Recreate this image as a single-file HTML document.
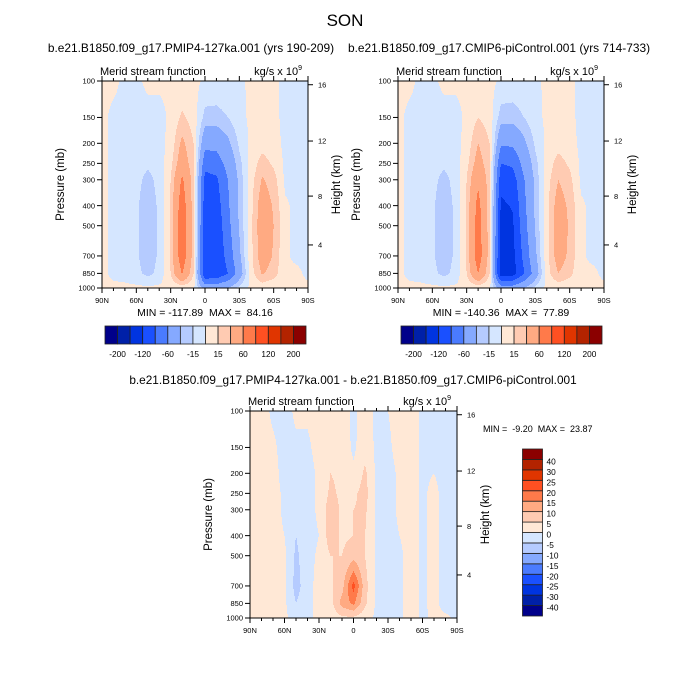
<!DOCTYPE html>
<html><head><meta charset="utf-8">
<style>
body{margin:0;background:#fff;}
svg{display:block;font-family:"Liberation Sans",sans-serif;}
text{white-space:pre;}
</style></head>
<body>
<svg id="root" width="700" height="700" viewBox="0 0 700 700">
<rect width="700" height="700" fill="#fff"/>
<text x="345" y="26" font-size="17" text-anchor="middle">SON</text>
<text x="191" y="52" font-size="11.9" text-anchor="middle">b.e21.B1850.f09_g17.PMIP4-127ka.001 (yrs 190-209)</text>
<text x="499" y="52" font-size="11.9" text-anchor="middle">b.e21.B1850.f09_g17.CMIP6-piControl.001 (yrs 714-733)</text>
<text x="353" y="384" font-size="11.8" text-anchor="middle">b.e21.B1850.f09_g17.PMIP4-127ka.001 - b.e21.B1850.f09_g17.CMIP6-piControl.001</text>
<g id="layer"></g>
</svg>
<script>
// ---- data ----
const lats = [90,80,70,60,50,40,30,20,10,0,-10,-20,-30,-40,-50,-60,-70,-80,-90];
const pressures = [100,150,200,250,300,400,500,700,850,1000];
const pressureTicks = [100,150,200,250,300,400,500,700,850,1000];
const latTicks = [90,60,30,0,-30,-60,-90];
const latTickLabels = ["90N","60N","30N","0","30S","60S","90S"];
const heightTickLabels = ["16","12","8","4"];
const heightTickFrac = [0.018,0.29,0.556,0.792];
const levelsFull = [-200,-160,-120,-90,-60,-30,-15,0,15,30,60,90,120,160,200];
const levelsFullLabels = ["-200","-120","-60","-15","15","60","120","200"];
const levelsDiff = [-40,-30,-25,-20,-15,-10,-5,0,5,10,15,20,25,30,40];
const levelsDiffLabels = ["-40","-30","-25","-20","-15","-10","-5","0","5","10","15","20","25","30","40"];
const palette = ["#00008a","#0020a8","#0034e0","#1a50ff","#4a7bff","#85a9ff","#b5cbff","#d5e6ff","#ffe8d6","#ffcbb2","#ffaa82","#ff7a4a","#ff5022","#e03500","#b32300","#8b0000"];
// rows = pressures, cols = lats
const fieldPMIP = [
[3,3,-3,-3,3,3,3,3,5,-3,-5,-5,-3,3,3,3,-3,-3,-3],
[3,-3,-3,-5,-5,-5,3,18,8,-20,-20,-15,-5,3,3,3,-3,-3,-3],
[3,-3,-5,-5,-8,-5,5,35,15,-50,-50,-35,-12,3,8,5,-3,-3,-3],
[3,-3,-5,-8,-12,-8,10,45,18,-80,-75,-50,-20,5,22,12,-3,-3,-3],
[3,-3,-5,-10,-20,-10,15,65,20,-100,-95,-60,-25,8,32,22,-3,-3,-3],
[3,-3,-5,-12,-25,-12,18,78,20,-108,-105,-65,-25,10,42,28,2,-3,-3],
[3,-3,-5,-12,-25,-12,18,84,20,-112,-110,-70,-28,10,45,30,2,-3,-3],
[3,-3,-5,-12,-25,-12,18,80,20,-115,-112,-80,-35,10,42,28,2,-3,-3],
[3,-3,-5,-10,-20,-10,15,62,15,-118,-115,-90,-45,8,32,22,2,3,-3],
[3,3,3,3,3,3,3,5,3,-40,-40,-30,-10,3,5,3,3,3,3]];
const fieldCTRL = [
[3,3,-3,-3,3,3,3,3,5,-3,-5,-5,-3,3,3,3,-3,-3,-3],
[3,-3,-3,-5,-5,-5,3,15,8,-22,-22,-15,-5,3,3,3,-3,-3,-3],
[3,-3,-5,-5,-8,-5,5,30,15,-55,-55,-35,-12,3,8,5,-3,-3,-3],
[3,-3,-5,-8,-12,-8,10,40,18,-90,-85,-50,-20,5,22,12,-3,-3,-3],
[3,-3,-5,-10,-20,-10,15,55,20,-110,-105,-62,-25,8,30,20,-3,-3,-3],
[3,-3,-5,-12,-25,-12,18,70,20,-125,-118,-68,-25,10,40,26,2,-3,-3],
[3,-3,-5,-12,-25,-12,18,75,20,-132,-125,-72,-28,10,42,28,2,-3,-3],
[3,-3,-5,-12,-25,-12,18,78,20,-138,-130,-82,-35,10,40,26,2,-3,-3],
[3,-3,-5,-10,-20,-10,15,60,15,-140,-135,-92,-45,8,30,20,2,3,-3],
[3,3,3,3,3,3,3,5,3,-45,-45,-30,-10,3,5,3,3,3,3]];
const fieldDiff = [
[2,2,-1,-2,1,1,2,2,2,-1,2,-1,0,2,2,-1,-2,-2,-2],
[2,2,1,-2,-1,-1,2,3,3,-1,3,-1,-1,2,2,-1,-2,-2,-2],
[2,2,2,-2,-2,-2,1,5,4,1,6,-1,-2,1,2,-1,0,-2,-2],
[2,2,2,-1,-3,-2,1,6,4,4,7,-1,-2,1,2,-1,1.5,-2,-2],
[2,2,2,-1,-3,-2,1,8,4,5,6,-1,-2,1,2,-1,1.5,-2,-2],
[2,2,2,0,-5,-2,0,8,4,5,5,-1,-2,0,2,-1,1.5,-2,-2],
[2,2,2,1,-6,-2,1,5,5,8,5,-1,-2,-1,2,-1,1.5,-2,-2],
[2,2,2,1,-7,-2,2,4,8,22,7,-1,-2,-1,2,-1,1.5,-2,-2],
[2,2,2,1,-5,-2,2,3,12,16,6,-1,-2,-1,2,-1,1.5,-2,-2],
[2,2,2,1,-2,-1,1,2,4,4,2,-1,-2,-1,2,-1,1,1,-1]];

const NS="http://www.w3.org/2000/svg";
const layer=document.getElementById('layer');
function mk(tag,attrs,parent){const e=document.createElementNS(NS,tag);for(const k in attrs)e.setAttribute(k,attrs[k]);(parent||layer).appendChild(e);return e;}
function txt(x,y,s,size,anchor,parent){const t=mk('text',{x:x,y:y,'font-size':size,'text-anchor':anchor||'start'},parent);t.textContent=s;return t;}

function colorFor(v,levels){let i=0;while(i<levels.length&&v>=levels[i])i++;return palette[i];}

function drawPanel(px,py,w,h,field,levels,name){
  const g=mk('g',{});
  
  
  const xOf=lat=>px+(90-lat)/180*w;
  const yOf=p=>py+Math.log10(p/100)*h;
  const lp=pressures.map(p=>Math.log10(p));
  function val(lat,p){
    let fi=(90-lat)/10; let i=Math.min(Math.floor(fi),lats.length-2); let fx=fi-i;
    const l=Math.log10(p); let j=0; while(j<lp.length-2&&l>lp[j+1])j++;
    let fy=(l-lp[j])/(lp[j+1]-lp[j]); fy=Math.max(0,Math.min(1,fy));
    const a=field[j][i],b=field[j][i+1],c=field[j+1][i],d=field[j+1][i+1];
    return (a*(1-fx)+b*fx)*(1-fy)+(c*(1-fx)+d*fx)*fy;
  }
  const cg=mk('g',{},g);
  
  
  for(let r=0;r<h;r++){
    const p=100*Math.pow(10,(r+0.5)/h);
    let start=0,cur=null;
    for(let c=0;c<=w;c++){
      let col=null;
      if(c<w){const lat=90-(c+0.5)/w*180;col=colorFor(val(lat,p),levels);}
      if(col!==cur){
        if(cur!==null){const rc=mk('rect',{x:px+start,y:py+r,width:c-start,height:1.02,fill:cur},cg);
          
          }
        cur=col;start=c;
      }
    }
  }
  const fr=mk('rect',{x:px,y:py,width:w,height:h,fill:'none',stroke:'#000','stroke-width':1},g);
  
  
  for(let lat=90;lat>=-90;lat-=10){
    const x=xOf(lat);const major=lat%30===0;const L=major?5:3;
    mk('line',{x1:x,y1:py+h,x2:x,y2:py+h+L,stroke:'#000','stroke-width':1},g);
    mk('line',{x1:x,y1:py,x2:x,y2:py-L,stroke:'#000','stroke-width':1},g);
  }
  latTicks.forEach((lat,k)=>{const t=txt(xOf(lat),py+h+15,latTickLabels[k],7.5,'middle',g);
    
    });
  pressureTicks.forEach(p=>{const y=yOf(p);
    mk('line',{x1:px,y1:y,x2:px-5,y2:y,stroke:'#000','stroke-width':1},g);
    const t=txt(px-7,y+2.7,String(p),7.5,'end',g);
    
    });
  heightTickLabels.forEach((s,k)=>{const y=py+heightTickFrac[k]*h;
    mk('line',{x1:px+w,y1:y,x2:px+w+5,y2:y,stroke:'#000','stroke-width':1},g);
    const t=txt(px+w+10,y+2.7,s,7.5,'start',g);
    
    });
  let t=txt(px-2,py-6,'Merid stream function',11,'start',g);
  
  
  t=mk('text',{x:px+w-6,y:py-6,'font-size':11,'text-anchor':'end'},g);
  t.innerHTML='kg/s x 10<tspan font-size="7" dy="-5">9</tspan>';
  
  
  t=txt(0,0,'Pressure (mb)',11.5,'middle',g);
  t.setAttribute('transform',`translate(${px-38},${py+h/2}) rotate(-90)`);
  
  
  t=txt(0,0,'Height (km)',11.5,'middle',g);
  t.setAttribute('transform',`translate(${px+w+32},${py+h/2}) rotate(-90)`);
  
  
  return g;
}
function hbar(x,y,w,h,labels,name){
  const g=mk('g',{});
  
  
  const bw=w/palette.length;
  palette.forEach((c,i)=>{const r=mk('rect',{x:x+i*bw,y:y,width:bw,height:h,fill:c,stroke:'#222','stroke-width':0.8},g);
    
    });
  labels.forEach((s,k)=>{const t=txt(x+(1+2*k)*bw,y+h+13,s,8.3,'middle',g);
    
    });
}
function vbar(x,y,w,h,labels,name){
  const g=mk('g',{});
  
  
  const bh=h/palette.length;
  palette.forEach((c,i)=>{const r=mk('rect',{x:x,y:y+(palette.length-1-i)*bh,width:w,height:bh,fill:c,stroke:'#222','stroke-width':0.8},g);
    
    });
  labels.forEach((s,k)=>{const t=txt(x+w+4,y+h-(k+1)*bh+5,s,8.3,'start',g);
    
    });
}
drawPanel(102,81,206,207,fieldPMIP,levelsFull,'pmip-panel');
drawPanel(398,81,206,207,fieldCTRL,levelsFull,'control-panel');
drawPanel(250,411,207,207,fieldDiff,levelsDiff,'difference-panel');
hbar(105,326,201,18,levelsFullLabels,'pmip-colorbar');
hbar(401,326,201,18,levelsFullLabels,'control-colorbar');
vbar(522.5,449,20,167,levelsDiffLabels,'difference-colorbar');
let t=txt(205,316,'MIN = -117.89  MAX =  84.16',10.5,'middle');


t=txt(501,316,'MIN = -140.36  MAX =  77.89',10.5,'middle');


t=txt(483,432,'MIN =  -9.20  MAX =  23.87',9,'start');


</script>
</body></html>
